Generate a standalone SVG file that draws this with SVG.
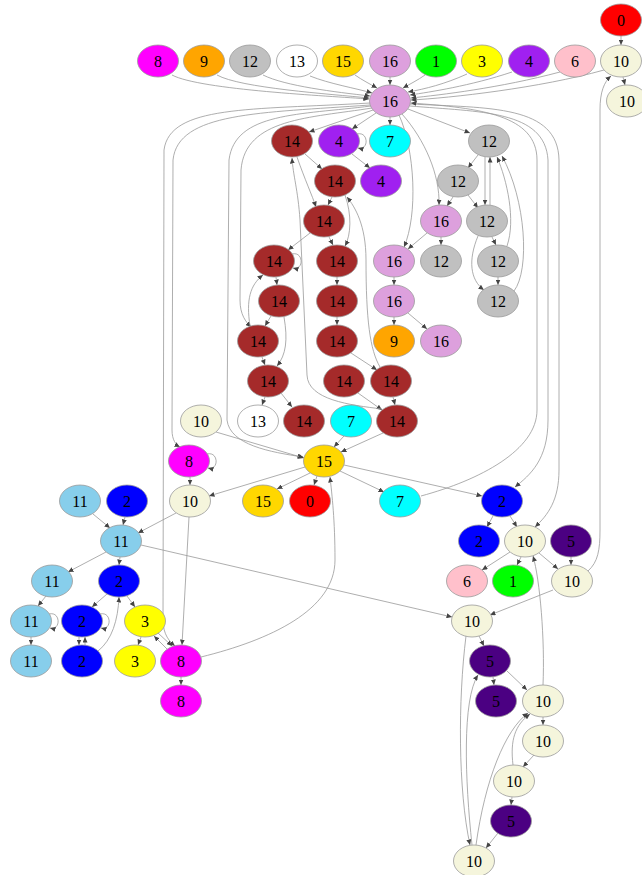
<svg xmlns="http://www.w3.org/2000/svg" width="642" height="875" viewBox="0 0 642 875">
<style>
  .n use { stroke: #9a9a9a; stroke-width: 0.8; }
  .n text { font-family: "Liberation Serif", "Times New Roman", serif; font-size: 16px; fill: #000; text-anchor: middle; }
  .e path { fill: none; stroke: #999; stroke-width: 0.8; marker-end: url(#ah); }
  .c0 { fill: #ff0000; } .c1 { fill: #00ff00; } .c2 { fill: #0000ff; } .c3 { fill: #ffff00; }
  .c4 { fill: #a020f0; } .c5 { fill: #4b0082; } .c6 { fill: #ffc0cb; } .c7 { fill: #00ffff; }
  .c8 { fill: #ff00ff; } .c9 { fill: #ffa500; } .c10 { fill: #f5f5dc; } .c11 { fill: #87ceeb; }
  .c12 { fill: #c0c0c0; } .c13 { fill: #ffffff; } .c14 { fill: #a52a2a; } .c15 { fill: #ffd700; }
  .c16 { fill: #dda0dd; }
</style>
<defs>
  <marker id="ah" markerUnits="userSpaceOnUse" markerWidth="6" markerHeight="5" refX="5.5" refY="2.5" orient="auto">
    <path d="M0,0 L5.5,2.5 L0,5 z" fill="#444"/>
  </marker>
  <ellipse id="shape" rx="20.5" ry="16"/>
</defs>
<rect width="642" height="875" fill="#fff"/>

<g id="edges" class="e">
  <!-- top row into the hub -->
  <path d="M621,36 L621,45"/>
  <path d="M623,77 L625,85"/>
  <path d="M172,75 C200,90 330,96 369,99"/>
  <path d="M217,75 C240,88 330,94 369,98"/>
  <path d="M263,75 C285,86 335,92 370,96"/>
  <path d="M310,76 C330,84 355,88 372,93"/>
  <path d="M355,75 C362,80 370,84 377,88"/>
  <path d="M390,77 L390,85"/>
  <path d="M425,75 C418,80 410,84 403,88"/>
  <path d="M467,74 C445,84 425,89 408,92"/>
  <path d="M512,72 C470,86 430,92 410,95"/>
  <path d="M560,72 C500,88 440,95 411,98"/>
  <path d="M604,70 C540,88 450,98 411,100"/>
  <path d="M588,571 C598,562 600,550 600,530 L600,110 C600,92 604,82 611,76"/>

  <!-- hub fan-out -->
  <path d="M373,110 L309,132"/>
  <path d="M376,113 L352,129"/>
  <path d="M390,117 L390,125"/>
  <path d="M408,109 L470,133"/>
  <path d="M402,114 C425,140 440,175 439,205"/>
  <path d="M399,115 C415,150 418,215 404,247"/>
  <path d="M370,103 C250,110 170,105 164,150 L163,620 C163,635 170,642 175,646"/>
  <path d="M370,105 C260,113 178,112 173,160 L172,430 C172,440 176,445 180,447"/>
  <path d="M371,106 C300,115 235,112 229,160 L227,420 C230,445 270,452 303,457"/>
  <path d="M372,108 C310,118 245,118 241,170 L240,300 C240,315 246,322 251,327"/>
  <path d="M410,106 C480,112 545,110 548,160 L548,420 C548,460 530,475 515,487"/>
  <path d="M410,104 C490,108 558,105 559,160 L559,470 C559,500 548,515 535,527"/>
  <path d="M421,496 C480,480 537,450 537,410 L537,160 C537,115 480,108 411,103"/>

  <!-- 4 / 12 / 16 branches -->
  <path d="M357,134 C369,131 369,151 358,148"/>
  <path d="M352,154 L370,168"/>
  <path d="M478,155 L468,168"/>
  <path d="M453,197 L447,206"/>
  <path d="M468,195 L478,208"/>
  <path d="M485,157 L485,205"/>
  <path d="M490,205 L490,157"/>
  <path d="M492,237 L496,245"/>
  <path d="M507,246 C516,220 507,180 497,157"/>
  <path d="M498,277 L498,285"/>
  <path d="M514,291 C530,270 526,200 502,156"/>
  <path d="M478,236 C468,260 470,280 484,290"/>
  <path d="M427,233 L408,249"/>
  <path d="M441,237 L441,245"/>
  <path d="M394,277 L394,285"/>
  <path d="M394,317 L394,325"/>
  <path d="M408,313 L427,329"/>

  <!-- 14 cluster -->
  <path d="M305,154 L322,169"/>
  <path d="M297,157 C305,180 312,195 316,207"/>
  <path d="M332,197 L328,205"/>
  <path d="M345,195 C352,215 351,235 345,246"/>
  <path d="M310,233 L288,250"/>
  <path d="M329,237 L333,245"/>
  <path d="M292,254 C304,251 304,271 293,268"/>
  <path d="M276,277 L277,285"/>
  <path d="M337,277 L337,285"/>
  <path d="M271,316 L265,326"/>
  <path d="M284,317 C288,340 286,355 277,366"/>
  <path d="M250,326 C246,300 250,285 263,275"/>
  <path d="M262,357 L265,365"/>
  <path d="M337,317 L337,325"/>
  <path d="M351,353 L377,370"/>
  <path d="M393,397 L395,405"/>
  <path d="M358,393 L382,410"/>
  <path d="M380,367 C370,350 366,320 366,260 C366,225 355,207 347,197"/>
  <path d="M382,409 C350,405 308,400 307,375 L300,220 C298,190 293,175 292,158"/>
  <path d="M265,397 L262,405"/>
  <path d="M281,393 L292,407"/>
  <path d="M383,433 L341,452"/>
  <path d="M344,436 L334,447"/>
  <path d="M216,432 L304,458"/>

  <!-- 15 fan-out -->
  <path d="M305,467 L209,496"/>
  <path d="M310,473 L277,489"/>
  <path d="M317,476 L314,485"/>
  <path d="M340,471 L384,492"/>
  <path d="M344,465 L482,496"/>
  <path d="M201,657 C270,640 335,610 335,560 C335,520 332,495 330,477"/>

  <!-- left lower part -->
  <path d="M207,454 C219,451 219,471 208,468"/>
  <path d="M190,477 L190,485"/>
  <path d="M176,513 L138,533"/>
  <path d="M189,517 L182,645"/>
  <path d="M93,514 L110,528"/>
  <path d="M125,517 L123,525"/>
  <path d="M106,552 L68,572"/>
  <path d="M120,557 L119,565"/>
  <path d="M141,545 L452,617"/>
  <path d="M46,596 L38,606"/>
  <path d="M49,614 C61,611 61,631 50,628"/>
  <path d="M31,637 L31,645"/>
  <path d="M107,594 L92,607"/>
  <path d="M127,596 L135,607"/>
  <path d="M100,614 C112,611 112,631 101,628"/>
  <path d="M79,637 L79,645"/>
  <path d="M85,645 L85,637"/>
  <path d="M98,651 C112,640 118,620 119,597"/>
  <path d="M141,637 L138,645"/>
  <path d="M158,633 L172,646"/>
  <path d="M167,649 L154,636"/>
  <path d="M181,677 L181,685"/>

  <!-- right lower part -->
  <path d="M493,516 L487,527"/>
  <path d="M510,516 L517,527"/>
  <path d="M510,552 L482,570"/>
  <path d="M521,557 L517,565"/>
  <path d="M539,553 L558,569"/>
  <path d="M571,557 L571,565"/>
  <path d="M553,590 L490,615"/>
  <path d="M543,685 C545,640 540,580 533,556"/>
  <path d="M479,636 L484,646"/>
  <path d="M466,636 C458,700 458,790 470,845"/>
  <path d="M493,677 L494,685"/>
  <path d="M507,671 L527,690"/>
  <path d="M472,845 C465,780 462,700 478,675"/>
  <path d="M476,845 C485,780 505,730 528,713"/>
  <path d="M543,717 L543,725"/>
  <path d="M534,755 L523,767"/>
  <path d="M513,765 C510,740 515,725 530,714"/>
  <path d="M512,797 L511,805"/>
  <path d="M498,833 L486,848"/>
</g>

<!-- row y=20 -->
<g id="n0" class="n"><use href="#shape" x="621" y="20" class="c0"/><text x="621" y="25.5">0</text></g>
<!-- row y=61 -->
<g id="n1" class="n"><use href="#shape" x="158" y="61" class="c8"/><text x="158" y="66.5">8</text></g>
<g id="n2" class="n"><use href="#shape" x="204" y="61" class="c9"/><text x="204" y="66.5">9</text></g>
<g id="n3" class="n"><use href="#shape" x="250" y="61" class="c12"/><text x="250" y="66.5">12</text></g>
<g id="n4" class="n"><use href="#shape" x="297" y="61" class="c13"/><text x="297" y="66.5">13</text></g>
<g id="n5" class="n"><use href="#shape" x="343" y="61" class="c15"/><text x="343" y="66.5">15</text></g>
<g id="n6" class="n"><use href="#shape" x="390" y="61" class="c16"/><text x="390" y="66.5">16</text></g>
<g id="n7" class="n"><use href="#shape" x="436" y="61" class="c1"/><text x="436" y="66.5">1</text></g>
<g id="n8" class="n"><use href="#shape" x="482" y="61" class="c3"/><text x="482" y="66.5">3</text></g>
<g id="n9" class="n"><use href="#shape" x="529" y="61" class="c4"/><text x="529" y="66.5">4</text></g>
<g id="n10" class="n"><use href="#shape" x="575" y="61" class="c6"/><text x="575" y="66.5">6</text></g>
<g id="n11" class="n"><use href="#shape" x="621" y="61" class="c10"/><text x="621" y="66.5">10</text></g>
<!-- row y=101 -->
<g id="n12" class="n"><use href="#shape" x="390" y="101" class="c16"/><text x="390" y="106.5">16</text></g>
<g id="n13" class="n"><use href="#shape" x="627" y="101" class="c10"/><text x="627" y="106.5">10</text></g>
<!-- row y=141 -->
<g id="n14" class="n"><use href="#shape" x="292" y="141" class="c14"/><text x="292" y="146.5">14</text></g>
<g id="n15" class="n"><use href="#shape" x="339" y="141" class="c4"/><text x="339" y="146.5">4</text></g>
<g id="n16" class="n"><use href="#shape" x="390" y="141" class="c7"/><text x="390" y="146.5">7</text></g>
<g id="n17" class="n"><use href="#shape" x="489" y="141" class="c12"/><text x="489" y="146.5">12</text></g>
<!-- row y=181 -->
<g id="n18" class="n"><use href="#shape" x="335" y="181" class="c14"/><text x="335" y="186.5">14</text></g>
<g id="n19" class="n"><use href="#shape" x="381" y="181" class="c4"/><text x="381" y="186.5">4</text></g>
<g id="n20" class="n"><use href="#shape" x="458" y="181" class="c12"/><text x="458" y="186.5">12</text></g>
<!-- row y=221 -->
<g id="n21" class="n"><use href="#shape" x="324" y="221" class="c14"/><text x="324" y="226.5">14</text></g>
<g id="n22" class="n"><use href="#shape" x="441" y="221" class="c16"/><text x="441" y="226.5">16</text></g>
<g id="n23" class="n"><use href="#shape" x="487" y="221" class="c12"/><text x="487" y="226.5">12</text></g>
<!-- row y=261 -->
<g id="n24" class="n"><use href="#shape" x="274" y="261" class="c14"/><text x="274" y="266.5">14</text></g>
<g id="n25" class="n"><use href="#shape" x="337" y="261" class="c14"/><text x="337" y="266.5">14</text></g>
<g id="n26" class="n"><use href="#shape" x="394" y="261" class="c16"/><text x="394" y="266.5">16</text></g>
<g id="n27" class="n"><use href="#shape" x="441" y="261" class="c12"/><text x="441" y="266.5">12</text></g>
<g id="n28" class="n"><use href="#shape" x="498" y="261" class="c12"/><text x="498" y="266.5">12</text></g>
<!-- row y=301 -->
<g id="n29" class="n"><use href="#shape" x="279" y="301" class="c14"/><text x="279" y="306.5">14</text></g>
<g id="n30" class="n"><use href="#shape" x="337" y="301" class="c14"/><text x="337" y="306.5">14</text></g>
<g id="n31" class="n"><use href="#shape" x="394" y="301" class="c16"/><text x="394" y="306.5">16</text></g>
<g id="n32" class="n"><use href="#shape" x="498" y="301" class="c12"/><text x="498" y="306.5">12</text></g>
<!-- row y=341 -->
<g id="n33" class="n"><use href="#shape" x="258" y="341" class="c14"/><text x="258" y="346.5">14</text></g>
<g id="n34" class="n"><use href="#shape" x="337" y="341" class="c14"/><text x="337" y="346.5">14</text></g>
<g id="n35" class="n"><use href="#shape" x="394" y="341" class="c9"/><text x="394" y="346.5">9</text></g>
<g id="n36" class="n"><use href="#shape" x="441" y="341" class="c16"/><text x="441" y="346.5">16</text></g>
<!-- row y=381 -->
<g id="n37" class="n"><use href="#shape" x="268" y="381" class="c14"/><text x="268" y="386.5">14</text></g>
<g id="n38" class="n"><use href="#shape" x="344" y="381" class="c14"/><text x="344" y="386.5">14</text></g>
<g id="n39" class="n"><use href="#shape" x="391" y="381" class="c14"/><text x="391" y="386.5">14</text></g>
<!-- row y=421 -->
<g id="n40" class="n"><use href="#shape" x="201" y="421" class="c10"/><text x="201" y="426.5">10</text></g>
<g id="n41" class="n"><use href="#shape" x="258" y="421" class="c13"/><text x="258" y="426.5">13</text></g>
<g id="n42" class="n"><use href="#shape" x="304" y="421" class="c14"/><text x="304" y="426.5">14</text></g>
<g id="n43" class="n"><use href="#shape" x="351" y="421" class="c7"/><text x="351" y="426.5">7</text></g>
<g id="n44" class="n"><use href="#shape" x="397" y="421" class="c14"/><text x="397" y="426.5">14</text></g>
<!-- row y=461 -->
<g id="n45" class="n"><use href="#shape" x="189" y="461" class="c8"/><text x="189" y="466.5">8</text></g>
<g id="n46" class="n"><use href="#shape" x="324" y="461" class="c15"/><text x="324" y="466.5">15</text></g>
<!-- row y=501 -->
<g id="n47" class="n"><use href="#shape" x="80" y="501" class="c11"/><text x="80" y="506.5">11</text></g>
<g id="n48" class="n"><use href="#shape" x="127" y="501" class="c2"/><text x="127" y="506.5">2</text></g>
<g id="n49" class="n"><use href="#shape" x="190" y="501" class="c10"/><text x="190" y="506.5">10</text></g>
<g id="n50" class="n"><use href="#shape" x="263" y="501" class="c15"/><text x="263" y="506.5">15</text></g>
<g id="n51" class="n"><use href="#shape" x="310" y="501" class="c0"/><text x="310" y="506.5">0</text></g>
<g id="n52" class="n"><use href="#shape" x="400" y="501" class="c7"/><text x="400" y="506.5">7</text></g>
<g id="n53" class="n"><use href="#shape" x="502" y="501" class="c2"/><text x="502" y="506.5">2</text></g>
<!-- row y=541 -->
<g id="n54" class="n"><use href="#shape" x="121" y="541" class="c11"/><text x="121" y="546.5">11</text></g>
<g id="n55" class="n"><use href="#shape" x="479" y="541" class="c2"/><text x="479" y="546.5">2</text></g>
<g id="n56" class="n"><use href="#shape" x="525" y="541" class="c10"/><text x="525" y="546.5">10</text></g>
<g id="n57" class="n"><use href="#shape" x="571" y="541" class="c5"/><text x="571" y="546.5">5</text></g>
<!-- row y=581 -->
<g id="n58" class="n"><use href="#shape" x="52" y="581" class="c11"/><text x="52" y="586.5">11</text></g>
<g id="n59" class="n"><use href="#shape" x="119" y="581" class="c2"/><text x="119" y="586.5">2</text></g>
<g id="n60" class="n"><use href="#shape" x="467" y="581" class="c6"/><text x="467" y="586.5">6</text></g>
<g id="n61" class="n"><use href="#shape" x="513" y="581" class="c1"/><text x="513" y="586.5">1</text></g>
<g id="n62" class="n"><use href="#shape" x="572" y="581" class="c10"/><text x="572" y="586.5">10</text></g>
<!-- row y=621 -->
<g id="n63" class="n"><use href="#shape" x="31" y="621" class="c11"/><text x="31" y="626.5">11</text></g>
<g id="n64" class="n"><use href="#shape" x="82" y="621" class="c2"/><text x="82" y="626.5">2</text></g>
<g id="n65" class="n"><use href="#shape" x="145" y="621" class="c3"/><text x="145" y="626.5">3</text></g>
<g id="n66" class="n"><use href="#shape" x="472" y="621" class="c10"/><text x="472" y="626.5">10</text></g>
<!-- row y=661 -->
<g id="n67" class="n"><use href="#shape" x="31" y="661" class="c11"/><text x="31" y="666.5">11</text></g>
<g id="n68" class="n"><use href="#shape" x="82" y="661" class="c2"/><text x="82" y="666.5">2</text></g>
<g id="n69" class="n"><use href="#shape" x="135" y="661" class="c3"/><text x="135" y="666.5">3</text></g>
<g id="n70" class="n"><use href="#shape" x="181" y="661" class="c8"/><text x="181" y="666.5">8</text></g>
<g id="n71" class="n"><use href="#shape" x="490" y="661" class="c5"/><text x="490" y="666.5">5</text></g>
<!-- row y=701 -->
<g id="n72" class="n"><use href="#shape" x="181" y="701" class="c8"/><text x="181" y="706.5">8</text></g>
<g id="n73" class="n"><use href="#shape" x="496" y="701" class="c5"/><text x="496" y="706.5">5</text></g>
<g id="n74" class="n"><use href="#shape" x="543" y="701" class="c10"/><text x="543" y="706.5">10</text></g>
<!-- lower chain -->
<g id="n75" class="n"><use href="#shape" x="543" y="741" class="c10"/><text x="543" y="746.5">10</text></g>
<g id="n76" class="n"><use href="#shape" x="514" y="781" class="c10"/><text x="514" y="786.5">10</text></g>
<g id="n77" class="n"><use href="#shape" x="511" y="821" class="c5"/><text x="511" y="826.5">5</text></g>
<g id="n78" class="n"><use href="#shape" x="474" y="861" class="c10"/><text x="474" y="866.5">10</text></g>
</svg>
